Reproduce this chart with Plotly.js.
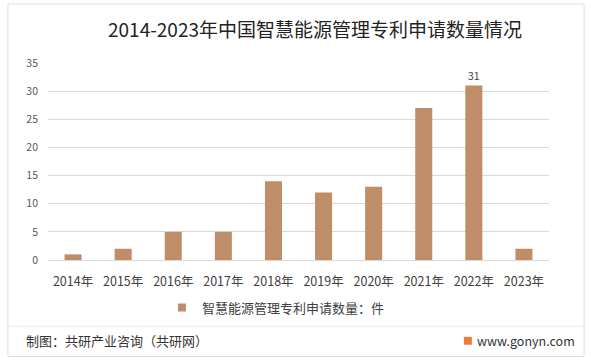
<!DOCTYPE html>
<html><head><meta charset="utf-8">
<script src="https://cdn.plot.ly/plotly-3.0.1.min.js"></script>
<style>body{margin:0;background:#fff}#c{width:591px;height:360px}</style>
</head><body><div id="c"></div>
<script>
const years = ['2014年','2015年','2016年','2017年','2018年','2019年','2020年','2021年','2022年','2023年'];
const patents = [1, 2, 5, 5, 14, 12, 13, 27, 31, 2];
const labels = ['', '', '', '', '', '', '', '', '31', ''];
const seriesName = '智慧能源管理专利申请数量：件';
const yTicks = [0, 5, 10, 15, 20, 25, 30, 35];

const font = "'Noto Sans CJK SC', 'Microsoft YaHei', sans-serif";
const barColor = '#BF8E68';
const bars = {
  type: 'bar', x: years, y: patents, name: seriesName, showlegend: false,
  marker: {color: barColor},
  text: labels, textposition: 'outside', cliponaxis: false,
  textfont: {size: 10.5, color: '#404040', family: font},
  hoverinfo: 'x+y'
};
const legendProxy = {
  type: 'scatter', mode: 'markers', x: [null], y: [null], name: seriesName,
  marker: {symbol: 'square', size: 8, color: barColor}, showlegend: true, hoverinfo: 'skip'
};
const layout = {
  width: 591, height: 360,
  margin: {l: 48, r: 42, t: 63, b: 100},
  paper_bgcolor: '#fff', plot_bgcolor: '#fff',
  bargap: 0.66,
  showlegend: true,
  legend: {orientation: 'h', x: 0.455, xanchor: 'center', y: -0.165, yanchor: 'top',
           font: {size: 13, color: '#404040', family: font}, itemwidth: 30},
  title: {text: '2014-2023年中国智慧能源管理专利申请数量情况', x: 0.533, xanchor: 'center', y: 0.915, yanchor: 'middle',
          font: {size: 19, color: '#222', family: font}},
  xaxis: {type: 'category', tickfont: {size: 12.5, color: '#404040', family: font},
          showline: true, linecolor: '#d9d9d9', ticks: '', ticklabelstandoff: 10, fixedrange: true},
  yaxis: {range: [0, 35], tickvals: yTicks, tickfont: {size: 10.5, color: '#595959', family: font},
          gridcolor: '#d9d9d9', zeroline: false, ticks: '', ticklabelstandoff: 9},
  shapes: [
    {type: 'rect', xref: 'paper', yref: 'paper', x0: -0.08, x1: 1.07, y0: -0.49, y1: 1.3,
     line: {color: '#e0e0e0', width: 1}},
    {type: 'line', xref: 'paper', yref: 'paper', x0: -0.08, x1: 1.07, y0: -0.337, y1: -0.337,
     line: {color: '#ececec', width: 1}},
    {type: 'rect', xref: 'paper', yref: 'paper', x0: 0.83, x1: 0.846, y0: -0.39, y1: -0.43,
     fillcolor: '#F07B3F', line: {width: 0}}
  ],
  annotations: [
    {text: '制图：共研产业咨询（共研网）', xref: 'paper', yref: 'paper', x: -0.047, y: -0.41,
     xanchor: 'left', yanchor: 'middle', showarrow: false, font: {size: 13, color: '#333', family: font}},
    {text: 'www.gonyn.com', xref: 'paper', yref: 'paper', x: 1.055, y: -0.41,
     xanchor: 'right', yanchor: 'middle', showarrow: false, font: {size: 12.5, color: '#333', family: font}}
  ]
};
Plotly.newPlot('c', [bars, legendProxy], layout, {displayModeBar: false, staticPlot: true});
</script></body></html>
